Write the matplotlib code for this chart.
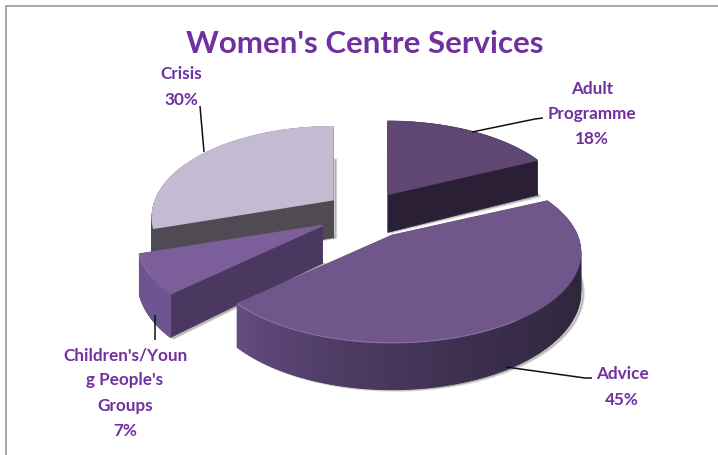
import numpy as np
import matplotlib
matplotlib.use("Agg")
import matplotlib.pyplot as plt
from matplotlib.colors import to_rgb
from matplotlib.patches import Polygon

# ---- data ----
categories = ["Adult\nProgramme", "Advice", "Children's/Youn\ng People's\nGroups", "Crisis"]
values = [18, 45, 7, 30]

# ---- style ----
explode = [0.28, 0.31, 0.235, 0.20]
nudge = [(0, 0), (0, -2), (0, 0), (3, -5)]
x_scale = [0.965, 1.0, 0.98, 0.96]
top_colors = ["#5f4673", "#70568a", "#7c5f9a", "#c4bad2"]
cut_colors = ["#2a1f35", "#2a1f35", "#4a3860", "#504b52"]
rim_start = ["#2a1f35", "#2b2238", "#6e5590", "#504b52"]
rim_end = ["#2a1f35", "#654c82", "#6e5590", "#504b52"]
label_xy = [(592, 114), (622, 387), (125, 393), (181, 87)]
leaders = [
    [(472, 132), (535, 119), (543, 118)],
    [(506, 367), (585, 378), (592, 378)],
    [(155, 315), (155, 340)],
    [(204, 152), (200, 106)],
]
PURPLE = "#7030a0"
CX, CY = 360, 215
RX, RY = 185, 87
PERSP = 0.19
DEPTH = 38

plt.rcParams["font.family"] = ["Lato", "DejaVu Sans"]
fig = plt.figure(figsize=(7.18, 4.55), dpi=100)
ax = fig.add_axes([0, 0, 1, 1])
ax.set_xlim(0, 718)
ax.set_ylim(455, 0)
ax.axis("off")


def project(theta, r=1.0):
    """Screen offset of a disc point seen in perspective (clockwise from top)."""
    x, y = r * np.sin(theta), r * np.cos(theta)
    s = 1.0 / (1.0 + PERSP * y)
    return x * s * RX, -y * s * RY, s


def lerp(c0, c1, t):
    a, b = np.array(to_rgb(c0)), np.array(to_rgb(c1))
    return tuple(a + (b - a) * t)


# border lines of the picture
ax.plot([718, 5.5, 5.5], [5.5, 5.5, 455], color="#a0a0a0", lw=1.3, zorder=0, solid_joinstyle="miter")

fractions = np.array(values, dtype=float) / sum(values)
edges = np.concatenate([[0], np.cumsum(fractions)]) * 2 * np.pi

# far slices first so that the near ones cover them
for z, i in enumerate([3, 0, 2, 1]):
    base = 1 + z * 4
    t0, t1 = edges[i], edges[i + 1]
    mid = (t0 + t1) / 2
    ax_ = CX + explode[i] * np.sin(mid) * RX + nudge[i][0]
    ay_ = CY - explode[i] * np.cos(mid) * RY + nudge[i][1]
    th = np.linspace(t0, t1, 121)
    px, py, ps = project(th)
    px, py = ax_ + px * x_scale[i], ay_ + py
    dz = DEPTH * ps

    # soft shadow of the lower outline
    shadow = np.vstack([[ax_ + 3, ay_ + DEPTH], np.column_stack([px + 3, py + dz + 1])])
    ax.add_patch(Polygon(shadow, closed=True, fc="#555555", ec="#777777", alpha=0.3, lw=1.5, zorder=base))

    # cut faces
    for k in (0, -1):
        ax.add_patch(Polygon([(ax_, ay_), (px[k], py[k]), (px[k], py[k] + dz[k]), (ax_, ay_ + DEPTH)],
                             closed=True, fc=cut_colors[i], ec=cut_colors[i], lw=0.4, zorder=base + 1))
    # rim, in strips
    for j in range(len(th) - 1):
        c = lerp(rim_start[i], rim_end[i], (j / (len(th) - 2)) ** 2.2)
        ax.add_patch(Polygon([(px[j], py[j]), (px[j + 1], py[j + 1]),
                              (px[j + 1], py[j + 1] + dz[j + 1]), (px[j], py[j] + dz[j])],
                             closed=True, fc=c, ec=c, lw=0.7, joinstyle="round", zorder=base + 1))
    # top surface
    ax.add_patch(Polygon(np.column_stack([np.r_[ax_, px], np.r_[ay_, py]]), closed=True,
                         fc=top_colors[i], ec=top_colors[i], lw=1.0, zorder=base + 2))
    if i in (1, 2):
        ax.plot(px[len(th) // 2:], py[len(th) // 2:], color="#8b74a8", lw=0.7, zorder=base + 2)

# leader lines and labels
for i, pts in enumerate(leaders):
    ax.plot(*zip(*pts), color="#111111", lw=1.1, zorder=20, solid_capstyle="butt")
    ax.text(label_xy[i][0], label_xy[i][1], f"{categories[i]}\n{values[i]}%", ha="center", va="center",
            color=PURPLE, fontsize=12.3, fontweight="bold", linespacing=1.7, zorder=21)

ax.text(365, 44, "Women's Centre Services", ha="center", va="center", color=PURPLE,
        fontsize=22.5, fontweight="bold", zorder=21)

fig.savefig("out.png", dpi=100)
